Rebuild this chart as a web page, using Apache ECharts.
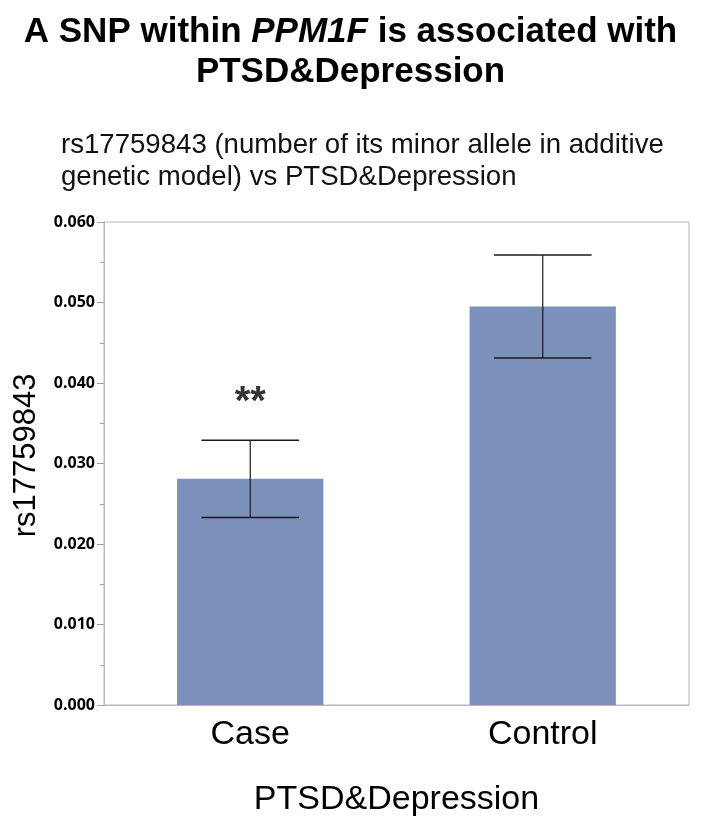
<!DOCTYPE html>
<html>
<head>
<meta charset="utf-8">
<script src="https://cdn.jsdelivr.net/npm/echarts@6/dist/echarts.min.js"></script>
<style>html,body{margin:0;padding:0;background:#fff;}#c{width:701px;height:832px;}</style>
</head>
<body>
<div id="c"></div>
<script>
const categories = ['Case', 'Control'];
const means = [0.0281, 0.0495];
const errLow = [0.0233, 0.0431];
const errHigh = [0.0329, 0.0559];
const yTicks = [0.000, 0.010, 0.020, 0.030, 0.040, 0.050, 0.060];
const sigMarks = ['**', ''];
const sigY = [0.0375, null];

const chart = echarts.init(document.getElementById('c'), null, {renderer: 'canvas'});
const F = '"Liberation Sans", Arial, Helvetica, sans-serif';

const option = {
  backgroundColor: '#fff',
  animation: false,
  title: [
    {
      text: '{b|A SNP within }{i|PPM1F}{b| is associated with}',
      left: 'center', top: 9,
      textStyle: { rich: {
        b: {fontFamily: F, fontWeight: 'bold', fontSize: 35, color: '#000', lineHeight: 36},
        i: {fontFamily: F, fontWeight: 'bold', fontStyle: 'italic', fontSize: 35, color: '#000', lineHeight: 36}
      }}
    },
    {
      text: 'PTSD&Depression',
      left: 'center', top: 49,
      textStyle: {fontFamily: F, fontWeight: 'bold', fontSize: 35, color: '#000', lineHeight: 36}
    },
    {
      text: 'rs17759843 (number of its minor allele in additive\ngenetic model) vs PTSD&Depression',
      left: 56, top: 124,
      textStyle: {fontFamily: F, fontWeight: 'normal', fontSize: 27.6, color: '#111', lineHeight: 32}
    }
  ],
  grid: { left: 104, right: 12, top: 222, bottom: 127, show: true, borderColor: '#b8b8b8', borderWidth: 1, containLabel: false, outerBoundsMode: 'none' },
  xAxis: {
    type: 'category',
    data: categories,
    axisLine: {show: true, lineStyle: {color: '#b8b8b8'}},
    axisTick: {show: false},
    axisLabel: {fontFamily: F, fontSize: 34, color: '#000', margin: 13, lineHeight: 34},
    name: 'PTSD&Depression',
    nameLocation: 'middle',
    nameGap: 78,
    nameTextStyle: {fontFamily: F, fontSize: 34, color: '#000', lineHeight: 34}
  },
  yAxis: {
    type: 'value',
    min: yTicks[0], max: yTicks[yTicks.length - 1], interval: 0.01,
    splitLine: {show: false},
    axisLine: {show: true, lineStyle: {color: '#b8b8b8'}},
    axisTick: {show: true, length: 7, lineStyle: {color: '#a0a0a0'}},
    minorTick: {show: true, splitNumber: 2, length: 4, lineStyle: {color: '#a0a0a0'}},
    axisLabel: {
      fontFamily: '"Open Sans", sans-serif', fontWeight: 'bold', fontSize: 16, color: '#000', margin: 9,
      formatter: v => v.toFixed(3)
    },
    name: 'rs17759843',
    nameLocation: 'middle',
    nameGap: 51,
    nameTextStyle: {fontFamily: F, fontSize: 31, color: '#000', lineHeight: 32, padding: [0, 0, 0, 16]}
  },
  series: [
    {
      type: 'bar',
      data: means,
      barWidth: '50%',
      itemStyle: {color: '#7b90ba'}
    },
    {
      type: 'scatter',
      data: sigY,
      symbol: 'circle',
      symbolSize: 1,
      itemStyle: {color: 'rgba(0,0,0,0)'},
      label: {
        show: true, position: 'inside',
        formatter: p => sigMarks[p.dataIndex],
        fontFamily: F, fontWeight: 'bold', fontSize: 40, color: '#000',
        textBorderWidth: 0
      },
      z: 6
    },
    {
      type: 'custom',
      data: categories.map((c, i) => [i, errLow[i], errHigh[i]]),
      renderItem: function (params, api) {
        const x = api.value(0);
        const lo = api.coord([x, api.value(1)]);
        const hi = api.coord([x, api.value(2)]);
        const half = api.size([1, 0])[0] * 0.167;
        const style = {stroke: '#1a1a1a', lineWidth: 1.5};
        return {
          type: 'group',
          children: [
            {type: 'line', shape: {x1: lo[0], y1: lo[1], x2: hi[0], y2: hi[1]}, style: {stroke: '#1a1a1a', lineWidth: 1.2}},
            {type: 'line', shape: {x1: lo[0] - half, y1: lo[1], x2: lo[0] + half, y2: lo[1]}, style: style},
            {type: 'line', shape: {x1: hi[0] - half, y1: hi[1], x2: hi[0] + half, y2: hi[1]}, style: style}
          ]
        };
      },
      z: 5
    }
  ]
};
chart.setOption(option);
</script>
</body>
</html>
